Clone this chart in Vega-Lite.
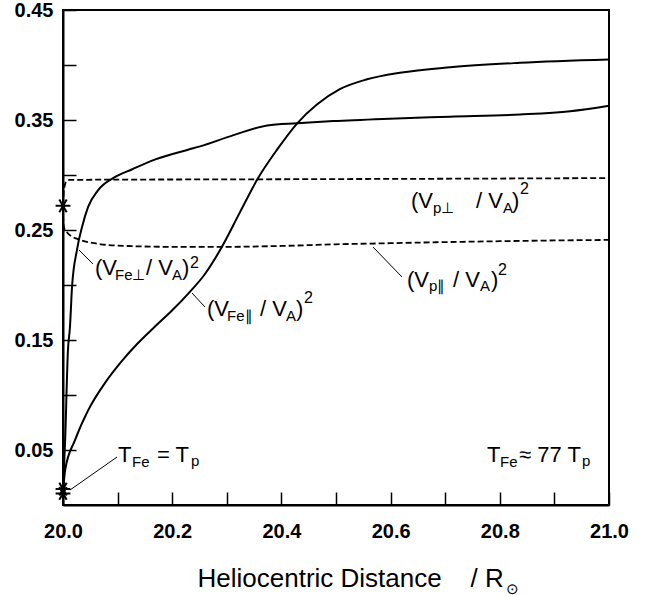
{
  "$schema": "https://vega.github.io/schema/vega-lite/v6.json",
  "width": 546,
  "height": 495,
  "autosize": {"type": "none"},
  "padding": {"left": 63, "top": 10, "right": 38, "bottom": 91},
  "background": "white",
  "config": {
    "font": "Liberation Sans",
    "view": {"stroke": "black", "strokeWidth": 2},
    "axis": {
      "grid": false,
      "domainColor": "black",
      "domainWidth": 2,
      "tickColor": "black",
      "tickWidth": 1.5,
      "tickSize": -13,
      "labelColor": "black",
      "labelFont": "Liberation Sans",
      "labelFontSize": 20,
      "labelFontWeight": "bold",
      "labelFlush": false,
      "labelOverlap": false,
      "titleColor": "black",
      "titleFont": "Liberation Sans"
    }
  },
  "datasets": {
    "fe": [
      {"s": "perp", "x": 20.0, "y": 0.012},
      {"s": "perp", "x": 20.004, "y": 0.06},
      {"s": "perp", "x": 20.009, "y": 0.14},
      {"s": "perp", "x": 20.0128, "y": 0.162},
      {"s": "perp", "x": 20.0165, "y": 0.198},
      {"s": "perp", "x": 20.0256, "y": 0.232},
      {"s": "perp", "x": 20.035, "y": 0.253},
      {"s": "perp", "x": 20.046, "y": 0.271},
      {"s": "perp", "x": 20.064, "y": 0.286},
      {"s": "perp", "x": 20.095, "y": 0.298},
      {"s": "perp", "x": 20.126, "y": 0.305},
      {"s": "perp", "x": 20.168, "y": 0.314},
      {"s": "perp", "x": 20.229, "y": 0.323},
      {"s": "perp", "x": 20.251, "y": 0.326},
      {"s": "perp", "x": 20.311, "y": 0.336},
      {"s": "perp", "x": 20.374, "y": 0.345},
      {"s": "perp", "x": 20.429, "y": 0.347},
      {"s": "perp", "x": 20.495, "y": 0.349},
      {"s": "perp", "x": 20.586, "y": 0.351},
      {"s": "perp", "x": 20.709, "y": 0.353},
      {"s": "perp", "x": 20.837, "y": 0.355},
      {"s": "perp", "x": 20.929, "y": 0.358},
      {"s": "perp", "x": 21.0, "y": 0.363},
      {"s": "par", "x": 20.0, "y": 0.012},
      {"s": "par", "x": 20.004, "y": 0.032},
      {"s": "par", "x": 20.022, "y": 0.059},
      {"s": "par", "x": 20.046, "y": 0.086},
      {"s": "par", "x": 20.077, "y": 0.111},
      {"s": "par", "x": 20.108, "y": 0.131},
      {"s": "par", "x": 20.137, "y": 0.147},
      {"s": "par", "x": 20.168, "y": 0.162},
      {"s": "par", "x": 20.2, "y": 0.177},
      {"s": "par", "x": 20.229, "y": 0.192},
      {"s": "par", "x": 20.26, "y": 0.21},
      {"s": "par", "x": 20.288, "y": 0.232},
      {"s": "par", "x": 20.324, "y": 0.266},
      {"s": "par", "x": 20.357, "y": 0.297},
      {"s": "par", "x": 20.392, "y": 0.323},
      {"s": "par", "x": 20.429, "y": 0.347},
      {"s": "par", "x": 20.465, "y": 0.364},
      {"s": "par", "x": 20.507, "y": 0.378},
      {"s": "par", "x": 20.557, "y": 0.387},
      {"s": "par", "x": 20.617, "y": 0.393},
      {"s": "par", "x": 20.709, "y": 0.398},
      {"s": "par", "x": 20.837, "y": 0.402},
      {"s": "par", "x": 21.0, "y": 0.405}
    ],
    "p": [
      {"s": "perp", "x": 20.0, "y": 0.272},
      {"s": "perp", "x": 20.001, "y": 0.282},
      {"s": "perp", "x": 20.003, "y": 0.29},
      {"s": "perp", "x": 20.006, "y": 0.294},
      {"s": "perp", "x": 20.012, "y": 0.2955},
      {"s": "perp", "x": 20.1, "y": 0.2958},
      {"s": "perp", "x": 20.3, "y": 0.296},
      {"s": "perp", "x": 20.5, "y": 0.2963},
      {"s": "perp", "x": 20.7, "y": 0.2966},
      {"s": "perp", "x": 20.9, "y": 0.297},
      {"s": "perp", "x": 21.0, "y": 0.2972},
      {"s": "par", "x": 20.0, "y": 0.272},
      {"s": "par", "x": 20.0005, "y": 0.258},
      {"s": "par", "x": 20.002, "y": 0.252},
      {"s": "par", "x": 20.009, "y": 0.247},
      {"s": "par", "x": 20.031, "y": 0.241},
      {"s": "par", "x": 20.06, "y": 0.2378},
      {"s": "par", "x": 20.1, "y": 0.2358},
      {"s": "par", "x": 20.2, "y": 0.2347},
      {"s": "par", "x": 20.3, "y": 0.2347},
      {"s": "par", "x": 20.4, "y": 0.2355},
      {"s": "par", "x": 20.5, "y": 0.237},
      {"s": "par", "x": 20.6, "y": 0.238},
      {"s": "par", "x": 20.7, "y": 0.239},
      {"s": "par", "x": 20.8, "y": 0.2398},
      {"s": "par", "x": 20.9, "y": 0.2405},
      {"s": "par", "x": 21.0, "y": 0.241}
    ],
    "stars": [
      {"x": 20.0, "y": 0.272},
      {"x": 20.0, "y": 0.0105},
      {"x": 20.0, "y": 0.0145}
    ],
    "pointers": [
      {"x": 20.0293, "y": 0.2318, "x2": 20.0549, "y2": 0.2191},
      {"x": 20.2363, "y": 0.1927, "x2": 20.26, "y2": 0.18},
      {"x": 20.5678, "y": 0.2345, "x2": 20.6209, "y2": 0.2073},
      {"x": 20.0128, "y": 0.0136, "x2": 20.0989, "y2": 0.0436}
    ],
    "main": [
      {"t": "(V", "x": 20.0586, "y": 0.2091},
      {"t": "/ V", "x": 20.152, "y": 0.2091},
      {"t": ")", "x": 20.2179, "y": 0.2091},
      {"t": "(V", "x": 20.2637, "y": 0.1718},
      {"t": "/ V", "x": 20.3608, "y": 0.1718},
      {"t": ")", "x": 20.4267, "y": 0.1718},
      {"t": "(V", "x": 20.6374, "y": 0.27},
      {"t": "/ V", "x": 20.7564, "y": 0.27},
      {"t": ")", "x": 20.8224, "y": 0.27},
      {"t": "(V", "x": 20.63, "y": 0.1982},
      {"t": "/ V", "x": 20.7143, "y": 0.1982},
      {"t": ")", "x": 20.7839, "y": 0.1982},
      {"t": "T", "x": 20.1007, "y": 0.0391},
      {"t": "= T", "x": 20.1722, "y": 0.0391},
      {"t": "T", "x": 20.7766, "y": 0.0391},
      {"t": "≈ 77 T", "x": 20.8352, "y": 0.0391}
    ],
    "sub": [
      {"t": "Fe⊥", "x": 20.0952, "y": 0.2045},
      {"t": "A", "x": 20.1996, "y": 0.2045},
      {"t": "Fe∥", "x": 20.3004, "y": 0.1673},
      {"t": "A", "x": 20.4084, "y": 0.1673},
      {"t": "p⊥", "x": 20.6777, "y": 0.2655},
      {"t": "A", "x": 20.8059, "y": 0.2655},
      {"t": "p∥", "x": 20.6703, "y": 0.1945},
      {"t": "A", "x": 20.7637, "y": 0.1945},
      {"t": "Fe", "x": 20.1264, "y": 0.0345},
      {"t": "p", "x": 20.2345, "y": 0.0355},
      {"t": "Fe", "x": 20.8004, "y": 0.0345},
      {"t": "p", "x": 20.9505, "y": 0.0355},
      {"t": "⊙", "x": 20.8113, "y": -0.0809}
    ],
    "sup": [
      {"t": "2", "x": 20.2326, "y": 0.2155},
      {"t": "2", "x": 20.4414, "y": 0.1836},
      {"t": "2", "x": 20.837, "y": 0.2827},
      {"t": "2", "x": 20.7967, "y": 0.2091}
    ]
  },
  "layer": [
    {
      "data": {"name": "fe"},
      "mark": {"type": "line", "color": "black", "strokeWidth": 2, "interpolate": "monotone"},
      "encoding": {
        "x": {
          "field": "x", "type": "quantitative",
          "scale": {"domain": [20, 21], "nice": false, "zero": false},
          "axis": {
            "values": [20.0, 20.1, 20.2, 20.3, 20.4, 20.5, 20.6, 20.7, 20.8, 20.9, 21.0],
            "labelExpr": "round(datum.value * 10) % 2 == 0 ? format(datum.value, '.1f') : ''",
            "labelBaseline": "alphabetic",
            "labelPadding": 45,
            "title": "Heliocentric Distance\u00a0\u00a0\u00a0\u00a0/ R",
            "titleFontSize": 26,
            "titleFontWeight": "normal",
            "titleAlign": "left",
            "titleBaseline": "alphabetic",
            "titleX": 134,
            "titleY": 81
          }
        },
        "y": {
          "field": "y", "type": "quantitative",
          "scale": {"domain": [0, 0.45], "nice": false, "zero": false},
          "axis": {
            "values": [0.05, 0.1, 0.15, 0.2, 0.25, 0.3, 0.35, 0.4, 0.45],
            "labelExpr": "round(datum.value * 100) % 10 == 5 ? format(datum.value, '.2f') : ''",
            "labelPadding": 23,
            "title": null
          }
        },
        "detail": {"field": "s"}
      }
    },
    {
      "data": {"name": "p"},
      "mark": {"type": "line", "color": "black", "strokeWidth": 1.8, "strokeDash": [6, 3], "interpolate": "monotone"},
      "encoding": {
        "x": {"field": "x", "type": "quantitative"},
        "y": {"field": "y", "type": "quantitative"},
        "detail": {"field": "s"}
      }
    },
    {
      "data": {"name": "pointers"},
      "mark": {"type": "rule", "color": "black", "strokeWidth": 1},
      "encoding": {
        "x": {"field": "x", "type": "quantitative"},
        "y": {"field": "y", "type": "quantitative"},
        "x2": {"field": "x2"},
        "y2": {"field": "y2"}
      }
    },
    {
      "data": {"name": "stars"},
      "mark": {"type": "point", "shape": "M-1,0L1,0M-0.5,-0.866L0.5,0.866M-0.5,0.866L0.5,-0.866", "filled": false, "stroke": "black", "strokeWidth": 2, "size": 220, "opacity": 1},
      "encoding": {
        "x": {"field": "x", "type": "quantitative"},
        "y": {"field": "y", "type": "quantitative"}
      }
    },
    {
      "data": {"name": "main"},
      "mark": {"type": "text", "align": "left", "baseline": "alphabetic", "fontSize": 22, "font": "Liberation Sans", "color": "black"},
      "encoding": {
        "x": {"field": "x", "type": "quantitative"},
        "y": {"field": "y", "type": "quantitative"},
        "text": {"field": "t"}
      }
    },
    {
      "data": {"name": "sub"},
      "mark": {"type": "text", "align": "left", "baseline": "alphabetic", "fontSize": 15, "font": "Liberation Sans", "color": "black"},
      "encoding": {
        "x": {"field": "x", "type": "quantitative"},
        "y": {"field": "y", "type": "quantitative"},
        "text": {"field": "t"}
      }
    },
    {
      "data": {"name": "sup"},
      "mark": {"type": "text", "align": "left", "baseline": "alphabetic", "fontSize": 16, "font": "Liberation Sans", "color": "black"},
      "encoding": {
        "x": {"field": "x", "type": "quantitative"},
        "y": {"field": "y", "type": "quantitative"},
        "text": {"field": "t"}
      }
    }
  ]
}
